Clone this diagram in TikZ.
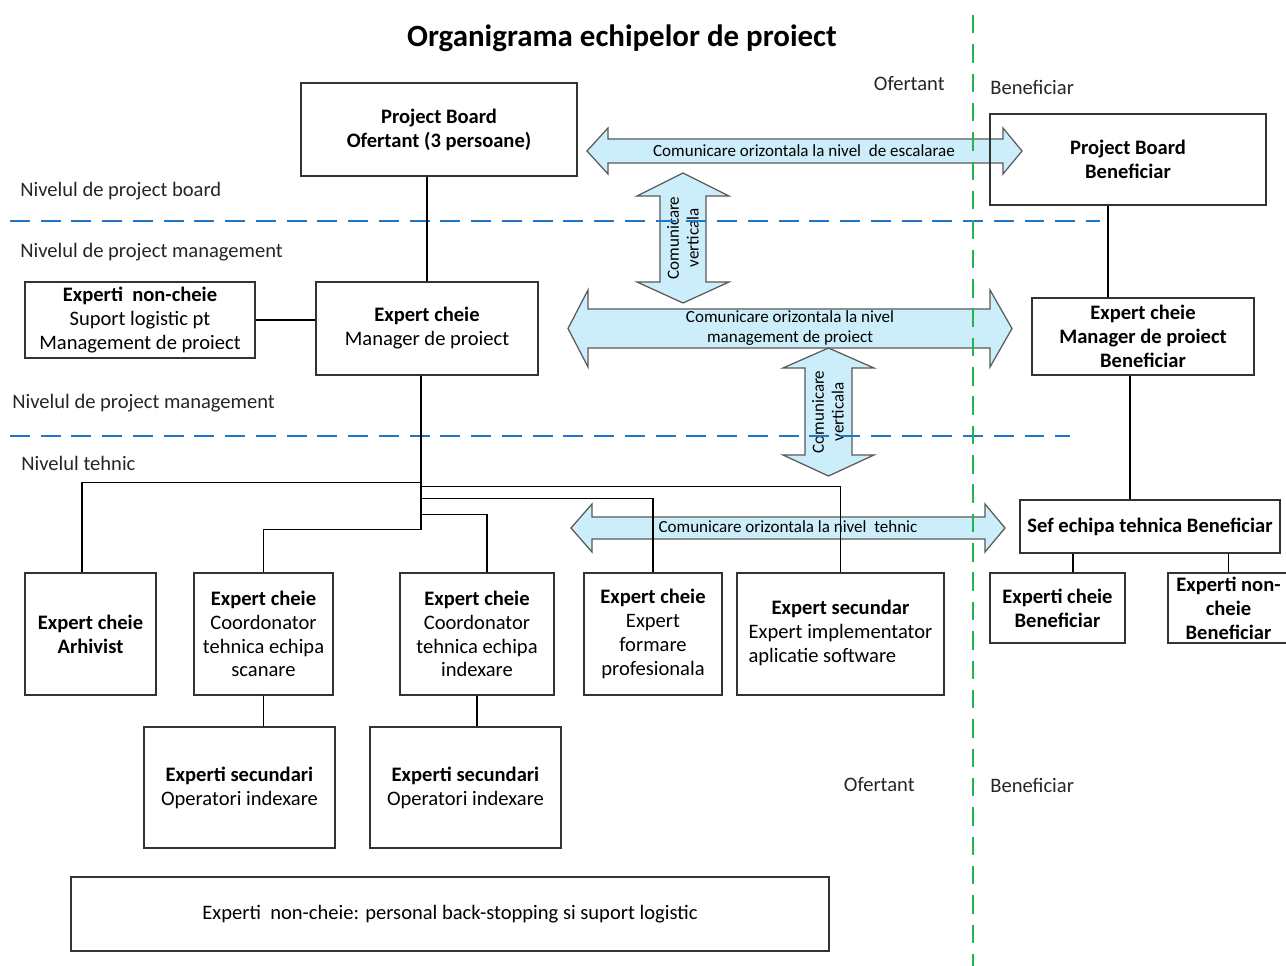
\documentclass[tikz,border=0pt]{standalone}
\usepackage{fontspec}
\setmainfont{Carlito}
\usepackage{xcolor}
\usetikzlibrary{positioning,calc}

\definecolor{commfill}{RGB}{204,238,250}
\definecolor{levelblue}{RGB}{30,118,200}
\definecolor{sidegreen}{RGB}{34,180,80}

\begin{document}
\begin{tikzpicture}[x=0.02cm,y=-0.02cm,
    box/.style={draw=black!80, line width=0.75pt, inner sep=0pt, align=center,
      font=\fontsize{11.7}{13.6}\selectfont},
    comm/.style={draw=black!65, fill=commfill, line width=0.7pt},
    commtext/.style={font=\fontsize{9.7}{11.3}\selectfont, align=center, inner sep=0pt},
    level/.style={anchor=west, inner sep=0pt, font=\fontsize{11.7}{13.6}\selectfont, text=black!85},
    link/.style={draw=black, line width=0.6pt},
    levelline/.style={draw=levelblue, line width=1.3pt, dash pattern=on 11.3pt off 6.2pt},
    sideline/.style={draw=sidegreen, line width=1.4pt, dash pattern=on 10.5pt off 6.2pt}]
  \useasboundingbox (0,0) rectangle (1286,966);
  \fill[white] (0,0) rectangle (1286,966);

  \node[font=\fontsize{17.6}{20}\selectfont\bfseries] (title) at (622,38) {Organigrama echipelor de proiect};

  % communication arrows
  \path[comm] (587,151) -- (608,128) -- (608,139) -- (1003,139) -- (1003,128) -- (1022,151)
    -- (1003,174) -- (1003,163) -- (608,163) -- (608,174) -- cycle;
  \path[comm] (683,173) -- (729,196) -- (706,196) -- (706,282) -- (729,282) -- (683,303)
    -- (637,282) -- (660,282) -- (660,196) -- (637,196) -- cycle;
  \path[comm] (568,328.5) -- (588,290) -- (588,309) -- (990,309) -- (990,290) -- (1012,328.5)
    -- (990,367) -- (990,348) -- (588,348) -- (588,367) -- cycle;
  \path[comm] (828.5,348) -- (874,368) -- (852,368) -- (852,455) -- (874,455) -- (828.5,476)
    -- (783,455) -- (805,455) -- (805,368) -- (783,368) -- cycle;
  \path[comm] (571,528) -- (592,504) -- (592,517) -- (985,517) -- (985,504) -- (1005,528)
    -- (985,552) -- (985,539) -- (592,539) -- (592,552) -- cycle;

  \node[commtext] (tesc) at (804,151) {Comunicare orizontala la nivel~ de escalarae};
  \node[commtext, rotate=90] (tv1) at (683,238) {Comunicare\\verticala};
  \node[commtext] (tmgt) at (790,328) {Comunicare orizontala la nivel\\management de proiect};
  \node[commtext, rotate=90] (tv2) at (828,412) {Comunicare\\verticala};
  \node[commtext] (ttech) at (788,527) {Comunicare orizontala la nivel~ tehnic};

  % level separators
  \draw[levelline] (10,221) -- (1100,221);
  \draw[levelline] (10,436) -- (1070,436);
  \draw[sideline] (973,15) -- (973,966);

  % boxes
  \node[box, minimum width=5.52cm, minimum height=1.86cm] (pbo) at (439,129.5) {\textbf{Project Board}\\\textbf{Ofertant (3 persoane)}};
  \node[box, minimum width=5.52cm, minimum height=1.82cm] (pbb) at (1128,159.5) {\textbf{Project Board}\\\textbf{Beneficiar}};
  \node[box, minimum width=4.6cm, minimum height=1.52cm] (sup) at (140,320) {\textbf{Experti~ non-cheie}\\Suport logistic pt\\Management de proiect};
  \node[box, minimum width=4.44cm, minimum height=1.86cm] (mgr) at (427,328.5) {\textbf{Expert cheie}\\Manager de proiect};
  \node[box, minimum width=4.44cm, minimum height=1.54cm] (mgrb) at (1143,336.5) {\textbf{Expert cheie}\\\textbf{Manager de proiect}\\\textbf{Beneficiar}};
  \node[box, minimum width=5.2cm, minimum height=1.06cm] (sef) at (1150,526.5) {\textbf{Sef echipa tehnica Beneficiar}};
  \node[box, minimum width=2.7cm, minimum height=1.4cm] (ekb) at (1057.5,608) {\textbf{Experti cheie}\\\textbf{Beneficiar}};
  \node[box, minimum width=2.42cm, minimum height=1.4cm] (enb) at (1228.5,608) {\textbf{Experti non-}\\\textbf{cheie}\\\textbf{Beneficiar}};
  \node[box, minimum width=2.62cm, minimum height=2.44cm] (arh) at (90.5,634) {\textbf{Expert cheie}\\\textbf{Arhivist}};
  \node[box, minimum width=2.78cm, minimum height=2.44cm] (scan) at (263.5,634) {\textbf{Expert cheie}\\Coordonator\\tehnica echipa\\scanare};
  \node[box, minimum width=3.08cm, minimum height=2.44cm] (idx) at (477,634) {\textbf{Expert cheie}\\Coordonator\\tehnica echipa\\indexare};
  \node[box, minimum width=2.76cm, minimum height=2.44cm] (frm) at (653,634) {\textbf{Expert cheie}\\Expert\\formare\\profesionala};
  \node[box, minimum width=4.14cm, minimum height=2.44cm] (sec) at (840.5,634) {\begin{tabular}{@{}l@{}}
      \multicolumn{1}{@{}c@{}}{\textbf{Expert secundar}}\\Expert implementator\\aplicatie software\end{tabular}};
  \node[box, minimum width=3.82cm, minimum height=2.42cm] (ops1) at (239.5,787.5) {\textbf{Experti secundari}\\Operatori indexare};
  \node[box, minimum width=3.82cm, minimum height=2.42cm] (ops2) at (465.5,787.5) {\textbf{Experti secundari}\\Operatori indexare};
  \node[box, minimum width=15.16cm, minimum height=1.48cm] (bstop) at (450,914) {Experti~ non-cheie: personal back-stopping si suport logistic};

  % links
  \draw[link] (mgr.north) -- (mgr.north |- pbo.south);
  \draw[link] (sup.east) -- (sup.east -| mgr.west);
  \draw[link] ([xshift=-0.4cm]pbb.south) -- ([xshift=-0.4cm]pbb.south |- mgrb.north);
  \draw[link] ([xshift=-0.26cm]mgrb.south) -- ([xshift=-0.26cm]mgrb.south |- sef.north);
  \draw[link] ([xshift=0.31cm]ekb.north) -- ([xshift=0.31cm]ekb.north |- sef.south);
  \draw[link] (enb.north) -- (enb.north |- sef.south);
  \draw[link] (scan.south) -- (scan.south |- ops1.north);
  \draw[link] (idx.south) -- (idx.south |- ops2.north);

  \coordinate (hub) at ([xshift=-0.12cm]mgr.south);
  \draw[link] (hub) -- ++(0,154) -| (scan.north);
  \draw[link] (hub) -- ++(0,107) -| ([xshift=-0.17cm]arh.north);
  \draw[link] (hub) ++(0,111) -| (sec.north);
  \draw[link] (hub) ++(0,123) -| (frm.north);
  \draw[link] (hub) ++(0,139) -| ([xshift=0.2cm]idx.north);

  % level and side labels
  \node[level] (lpb) at (20,191) {Nivelul de project board};
  \node[level] (lpm1) at (20,252) {Nivelul de project management};
  \node[level] (lpm2) at (12,403) {Nivelul de project management};
  \node[level] (lteh) at (21,463) {Nivelul tehnic};
  \node[level, anchor=east] (of1) at (945,84) {Ofertant};
  \node[level] (be1) at (990,87) {Beneficiar};
  \node[level, anchor=east] (of2) at (915,785) {Ofertant};
  \node[level] (be2) at (990,785) {Beneficiar};
\end{tikzpicture}
\end{document}
